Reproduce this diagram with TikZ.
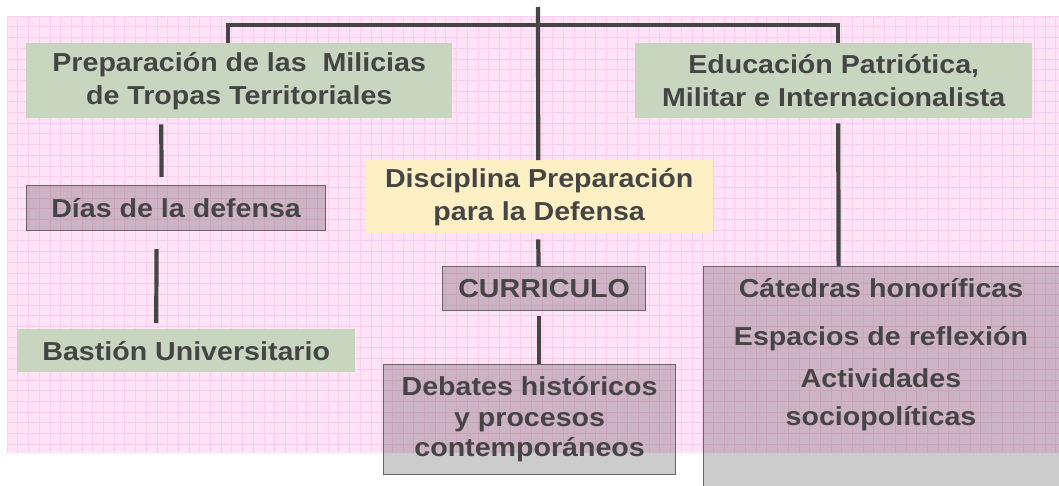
\documentclass[tikz,border=0pt]{standalone}
\usepackage{fontspec}
\setmainfont{Liberation Sans}[FakeStretch=1.1]
\usepackage{tikz}
\usetikzlibrary{positioning}
\definecolor{pinkbg}{HTML}{FFE2F6}
\definecolor{pinkgrid}{HTML}{FDCDED}
\definecolor{greenbox}{HTML}{C8D6C0}
\definecolor{yellowbox}{HTML}{FFEFC4}
\definecolor{inkgray}{HTML}{454545}
\tikzset{
  txt/.style={text=inkgray, font=\fontsize{26}{33}\selectfont\bfseries, align=center, inner sep=0pt},
  greenlbl/.style={txt, fill=greenbox, anchor=north west},
  yellowlbl/.style={txt, fill=yellowbox, anchor=north west},
  darklbl/.style={txt, draw=black!60, line width=1.2pt, fill=black, fill opacity=0.2, text opacity=1, anchor=north west},
  link/.style={draw=inkgray, line width=4.2pt}
}

\begin{document}
\begin{tikzpicture}[x=1pt, y=-1pt]
\newcommand\gridstep{10.7}
\useasboundingbox (0,0) rectangle (1059,485);
\clip (0,0) rectangle (1059,485);

% background sheet
\fill[pinkbg] (7,16) rectangle (1059,453);
\foreach \i in {0,...,98}
  \draw[pinkgrid, line width=0.5pt] (7+\i*\gridstep,16) -- (7+\i*\gridstep,453);
\foreach \j in {0,...,40}
  \draw[pinkgrid, line width=0.5pt] (7,16+\j*\gridstep) -- (1059,16+\j*\gridstep);

% first row
\node[greenlbl, minimum width=426, minimum height=75] (milicias) at (26,43)
  {Preparación de las\ \ Milicias\\de Tropas Territoriales};
\node[greenlbl, minimum width=397, minimum height=75] (educacion) at (635,43)
  {Educación Patriótica,\\Militar e Internacionalista};
\node[yellowlbl, minimum width=348, minimum height=73] (disciplina) at (365,160)
  {Disciplina Preparación\\para la Defensa};

% left column
\node[darklbl, minimum width=299, minimum height=45] (dias) at (26,185) {Días de la defensa};
\node[greenlbl, minimum width=338, minimum height=43] (bastion) at (17,329) {Bastión Universitario};

% middle column
\node[darklbl, minimum width=203, minimum height=44] (curriculo) at (442,266) {CURRICULO};
\node[darklbl, minimum width=292, minimum height=110, font=\fontsize{26}{30.5}\selectfont\bfseries] (debates) at (383,364)
  {Debates históricos\\y procesos\\contemporáneos};

% right column
\node[darklbl, minimum width=360, minimum height=230] (catbox) at (703,266) {};
\node[txt, anchor=base] (catedras) at (881,297) {Cátedras honoríficas};
\node[txt, anchor=base] (espacios) at (881,345) {Espacios de reflexión};
\node[txt, anchor=base] (actividades) at (881,387) {Actividades};
\node[txt, anchor=base] (sociopol) at (881,425) {sociopolíticas};

\coordinate (topend) at (538,7);
\coordinate (bar) at (538,25);

\draw[link] (topend) -- ([xshift=-1]disciplina.north);
\draw[link] ([xshift=-11]milicias.north) |- (bar) -| ([xshift=4.5]educacion.north);

\draw[link] ([xshift=-78,yshift=-6]milicias.south) -- ([xshift=-14.5,yshift=8]dias.north);
\draw[link] ([xshift=-19.5,yshift=-18]dias.south) -- ([xshift=-30,yshift=6]bastion.north);

\draw[link] ([xshift=-1,yshift=-6]disciplina.south) -- ([xshift=-5.5]curriculo.north);
\draw[link] ([xshift=-5.5,yshift=-5]curriculo.south) -- ([xshift=9]debates.north);

\draw[link] ([xshift=4.5,yshift=-5]educacion.south) -- ([xshift=-45]catbox.north);
\end{tikzpicture}
\end{document}
